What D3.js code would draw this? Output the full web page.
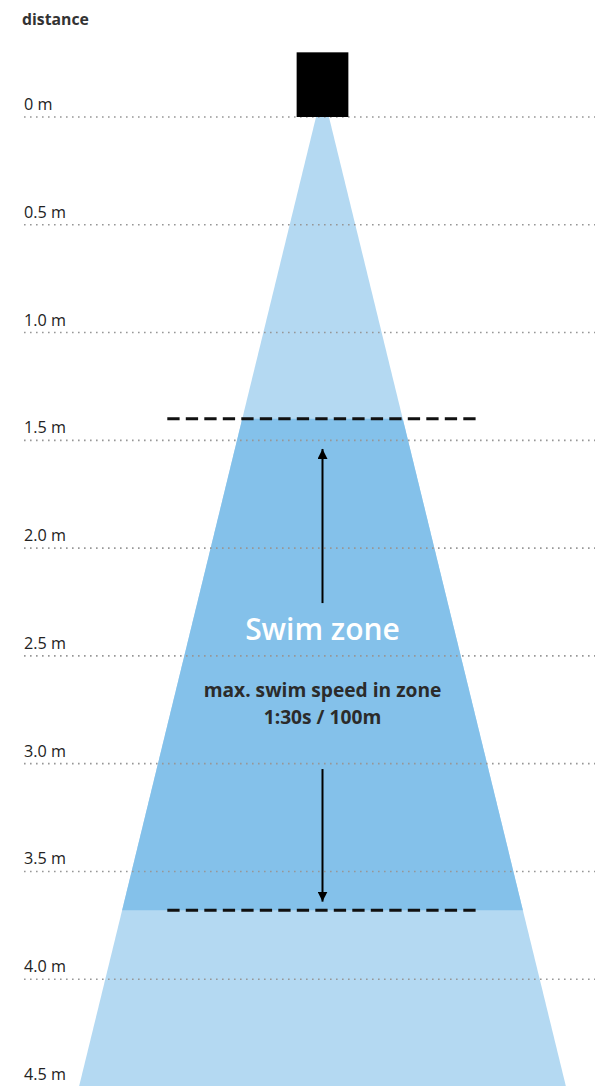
<!DOCTYPE html>
<html>
<head>
<meta charset="utf-8">
<script src="https://cdn.jsdelivr.net/npm/d3@7"></script>
<style>
    html, body { margin: 0; padding: 0; background: #fff; }
    svg { display: block; font-family: 'Open Sans', 'Noto Sans', sans-serif; }
</style>
</head>
<body>
<div id="chart"></div>
<script>
// Distance axis
const distanceTicks = [0, 0.5, 1.0, 1.5, 2.0, 2.5, 3.0, 3.5, 4.0, 4.5];
const tickLabels = ['0 m', '0.5 m', '1.0 m', '1.5 m', '2.0 m', '2.5 m', '3.0 m', '3.5 m', '4.0 m', '4.5 m'];

// Beam cone: half width (m) at distance (m)
const beamDistance = [0, 4.5];
const beamHalfWidth = [0.03, 1.13];

// Swim zone limits (m) and marker line half width (m)
const swimZone = [1.4, 3.68];
const zoneLineHalfWidth = 0.72;

// Arrows (from, to) in m
const arrowFrom = [2.255, 3.025];
const arrowTo = [1.54, 3.64];

// Sensor box size (m)
const sensorWidth = 0.24;
const sensorHeight = 0.3;

const zoneTitle = 'Swim zone';
const zoneNote = ['max. swim speed in zone', '1:30s / 100m'];

const width = 595;
const height = 1086;
const centerX = 322.5;

const svg = d3.select('#chart')
    .append('svg')
    .attr('width', width)
    .attr('height', height);

const y = d3.scaleLinear().domain([0, 4.5]).range([117, 1087]);
const pxPerM = (y(1) - y(0));
const x = d3.scaleLinear().domain([-1, 1]).range([centerX - pxPerM, centerX + pxPerM]);

// half width of beam at a given distance
const halfAt = d3.scaleLinear().domain(beamDistance).range(beamHalfWidth);

// Beam (light)
const beam = [
    [-beamHalfWidth[0], beamDistance[0]],
    [beamHalfWidth[0], beamDistance[0]],
    [beamHalfWidth[1], beamDistance[1]],
    [-beamHalfWidth[1], beamDistance[1]]
];
svg.append('path')
    .attr('d', d3.line().x(d => x(d[0])).y(d => y(d[1]))(beam) + 'Z')
    .attr('fill', '#b4d9f2');

// Swim zone (darker)
const zone = [
    [-halfAt(swimZone[0]), swimZone[0]],
    [halfAt(swimZone[0]), swimZone[0]],
    [halfAt(swimZone[1]), swimZone[1]],
    [-halfAt(swimZone[1]), swimZone[1]]
];
svg.append('path')
    .attr('d', d3.line().x(d => x(d[0])).y(d => y(d[1]))(zone) + 'Z')
    .attr('fill', '#84c1ea');

// Grid lines
svg.append('g')
    .selectAll('line')
    .data(distanceTicks.filter(d => y(d) < height - 1))
    .enter()
    .append('line')
    .attr('x1', 24)
    .attr('x2', width)
    .attr('y1', d => y(d))
    .attr('y2', d => y(d))
    .attr('stroke', '#979797')
    .attr('stroke-width', 1.6)
    .attr('stroke-dasharray', '1.6,4.4');

// Tick labels
svg.append('g')
    .selectAll('text')
    .data(distanceTicks)
    .enter()
    .append('text')
    .attr('x', 24)
    .attr('y', d => y(d) - 7)
    .attr('fill', '#222')
    .style('font-size', '16.2px')
    .text((d, i) => tickLabels[i]);

svg.append('text')
    .attr('x', 22)
    .attr('y', 25)
    .attr('fill', '#333')
    .style('font-size', '15.8px')
    .style('font-weight', 'bold')
    .text('distance');

// Sensor
svg.append('rect')
    .attr('x', x(-sensorWidth / 2))
    .attr('y', y(-sensorHeight))
    .attr('width', x(sensorWidth / 2) - x(-sensorWidth / 2))
    .attr('height', y(0) - y(-sensorHeight))
    .attr('fill', '#000');

// Zone limit lines
svg.append('g')
    .selectAll('line')
    .data(swimZone)
    .enter()
    .append('line')
    .attr('x1', x(-zoneLineHalfWidth))
    .attr('x2', x(zoneLineHalfWidth))
    .attr('y1', d => y(d))
    .attr('y2', d => y(d))
    .attr('stroke', '#111')
    .attr('stroke-width', 3)
    .attr('stroke-dasharray', '12.3,6.2');

// Arrows
svg.append('defs')
    .append('marker')
    .attr('id', 'head')
    .attr('viewBox', '0 0 10 10')
    .attr('refX', 10)
    .attr('refY', 5)
    .attr('markerWidth', 5)
    .attr('markerHeight', 5)
    .attr('markerUnits', 'strokeWidth')
    .attr('orient', 'auto')
    .append('path')
    .attr('d', 'M0,0 L10,5 L0,10 Z')
    .attr('fill', '#000');

svg.append('g')
    .selectAll('line')
    .data(arrowFrom)
    .enter()
    .append('line')
    .attr('x1', x(0))
    .attr('x2', x(0))
    .attr('y1', d => y(d))
    .attr('y2', (d, i) => y(arrowTo[i]))
    .attr('stroke', '#000')
    .attr('stroke-width', 2)
    .attr('marker-end', 'url(#head)');

// Labels
svg.append('text')
    .attr('x', x(0))
    .attr('y', 640)
    .attr('text-anchor', 'middle')
    .attr('fill', '#fff')
    .style('font-size', '30px')
    .style('font-weight', 600)
    .text(zoneTitle);

svg.append('g')
    .selectAll('text')
    .data(zoneNote)
    .enter()
    .append('text')
    .attr('x', x(0))
    .attr('y', (d, i) => 697 + i * 27)
    .attr('text-anchor', 'middle')
    .attr('fill', '#2b2b2b')
    .style('font-size', '19.2px')
    .style('font-weight', 'bold')
    .text(d => d);
</script>
</body>
</html>
